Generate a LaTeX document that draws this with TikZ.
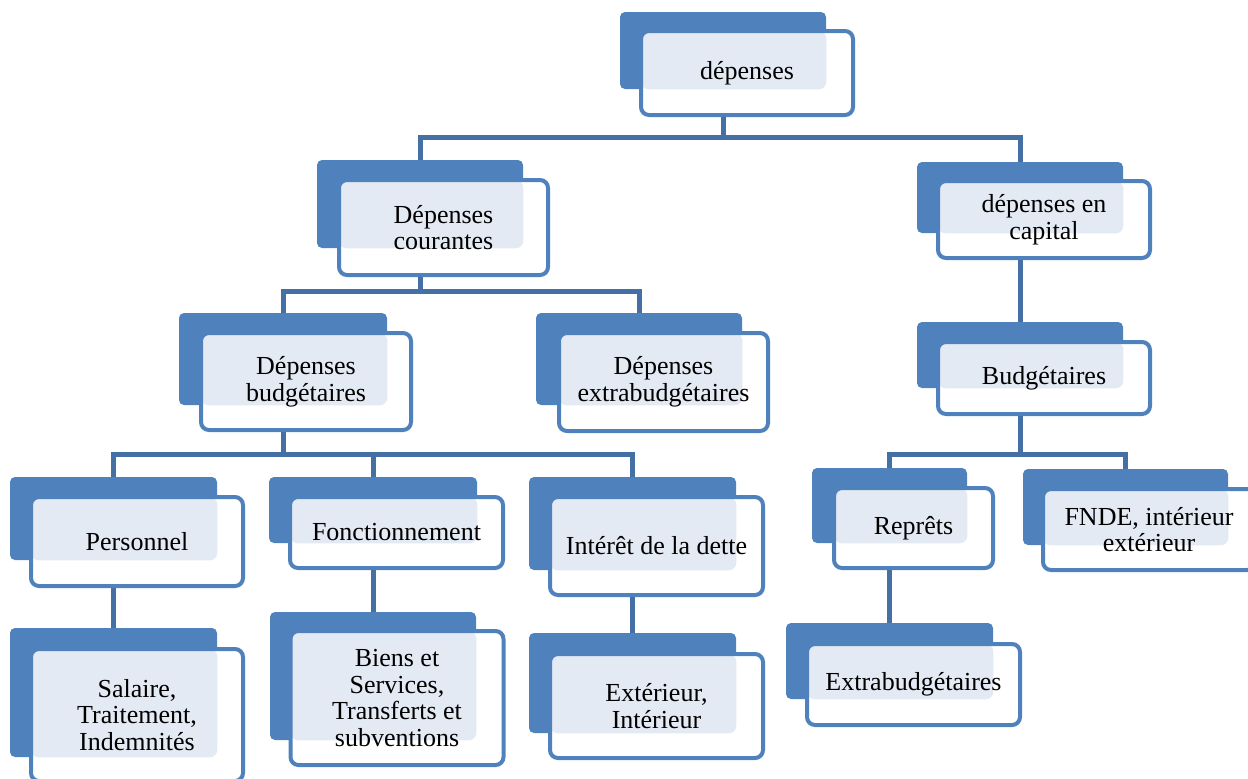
\documentclass[tikz,border=0pt]{standalone}
\usepackage{fontspec}
\setmainfont{Liberation Serif}
\usetikzlibrary{calc}
\definecolor{boxblue}{RGB}{79,129,189}
\definecolor{linkblue}{RGB}{68,112,166}
\definecolor{dotblue}{RGB}{228,234,243}
\tikzset{
  backbox/.style={fill=boxblue, rounded corners=2.5pt, inner sep=0pt},
  frontbox/.style={draw=boxblue, line width=2pt, fill=white, rounded corners=4pt,
    inner sep=0pt, align=center, font=\fontsize{13}{13.3}\selectfont,
    path picture={\fill[dotblue] (path picture bounding box.north west) rectangle (#1.south east);}},
  link/.style={draw=linkblue, line width=2.5pt}
}

\begin{document}
\begin{tikzpicture}[x=0.5pt, y=-0.5pt]
\useasboundingbox (0,0) rectangle (1248,778);
% niveau 1
\node[backbox, minimum width=103pt, minimum height=38.5pt] (dep-b) at (723,50.5) {};
\node[frontbox=dep-b, minimum width=106pt, minimum height=42pt] (dep) at (747,73) {dépenses};
% niveau 2
\node[backbox, minimum width=103pt, minimum height=44pt] (cour-b) at (420,204) {};
\node[frontbox=cour-b, minimum width=104.5pt, minimum height=47.5pt] (cour) at (443.5,227.5) {Dépenses\\courantes};
\node[backbox, minimum width=103pt, minimum height=35.5pt] (cap-b) at (1020,197.5) {};
\node[frontbox=cap-b, minimum width=106pt, minimum height=38.5pt] (cap) at (1044,219.5) {dépenses en\\capital};
% niveau 3
\node[backbox, minimum width=104pt, minimum height=46pt] (budg-b) at (283,359) {};
\node[frontbox=budg-b, minimum width=105pt, minimum height=48.5pt] (budg) at (306,381.5) {Dépenses\\budgétaires};
\node[backbox, minimum width=103pt, minimum height=46pt] (extra-b) at (639,359) {};
\node[frontbox=extra-b, minimum width=104.5pt, minimum height=49pt] (extra) at (663.5,382) {Dépenses\\extrabudgétaires};
\node[backbox, minimum width=103pt, minimum height=33pt] (bcap-b) at (1020,355) {};
\node[frontbox=bcap-b, minimum width=106pt, minimum height=36pt] (bcap) at (1044,378) {Budgétaires};
% niveau 4
\node[backbox, minimum width=103.5pt, minimum height=41.5pt] (pers-b) at (113.5,518.5) {};
\node[frontbox=pers-b, minimum width=106pt, minimum height=44.5pt] (pers) at (137,541.5) {Personnel};
\node[backbox, minimum width=104pt, minimum height=33pt] (fonc-b) at (373,510) {};
\node[frontbox=fonc-b, minimum width=106.5pt, minimum height=35.5pt] (fonc) at (396.5,532.5) {Fonctionnement};
\node[backbox, minimum width=103.5pt, minimum height=46.5pt] (inter-b) at (632.5,523.5) {};
\node[frontbox=inter-b, minimum width=106.5pt, minimum height=49pt] (inter) at (656.5,546) {Intérêt de la dette};
\node[backbox, minimum width=77.5pt, minimum height=37.5pt] (repr-b) at (889.5,505.5) {};
\node[frontbox=repr-b, minimum width=79.5pt, minimum height=40pt] (repr) at (913.5,528) {Reprêts};
\node[backbox, minimum width=102.5pt, minimum height=38pt] (fnde-b) at (1125.5,507) {};
\node[frontbox=fnde-b, minimum width=106pt, minimum height=40.5pt] (fnde) at (1149,529.5) {FNDE, intérieur\\extérieur};
% niveau 5
\node[backbox, minimum width=103.5pt, minimum height=64.5pt] (sal-b) at (113.5,692.5) {};
\node[frontbox=sal-b, minimum width=106pt, minimum height=66pt] (sal) at (137,715) {Salaire,\\Traitement,\\Indemnités};
\node[backbox, minimum width=103pt, minimum height=64pt] (biens-b) at (373,676) {};
\node[frontbox=biens-b, minimum width=106.5pt, minimum height=67pt] (biens) at (397,698) {Biens et\\Services,\\Transferts et\\subventions};
\node[backbox, minimum width=103.5pt, minimum height=50pt] (ext-b) at (632.5,683) {};
\node[frontbox=ext-b, minimum width=106.5pt, minimum height=52pt] (ext) at (656.5,706) {Extérieur,\\Intérieur};
\node[backbox, minimum width=103.5pt, minimum height=38pt] (xb-b) at (889.5,661) {};
\node[frontbox=xb-b, minimum width=106.5pt, minimum height=40.5pt] (xb) at (913.5,684.5) {Extrabudgétaires};
% liaisons
\coordinate (j1) at (723,137);
\coordinate (j2) at (420,291);
\coordinate (j3) at (1020,454);
\coordinate (j4) at (283,454);
\draw[link] (dep-b |- dep.south) -- (j1) -| (cour-b.north);
\draw[link] (j1) -| (cap-b.north);
\draw[link] (cour-b |- cour.south) -- (j2) -| (budg-b.north);
\draw[link] (j2) -| (extra-b.north);
\draw[link] (cap-b |- cap.south) -- (bcap-b.north);
\draw[link] (bcap-b |- bcap.south) -- (j3) -| (repr-b.north);
\draw[link] (j3) -| (fnde-b.north);
\draw[link] (budg-b |- budg.south) -- (j4) -| (pers-b.north);
\draw[link] (j4) -| (fonc-b.north);
\draw[link] (j4) -| (inter-b.north);
\draw[link] (pers-b |- pers.south) -- (sal-b.north);
\draw[link] (fonc-b |- fonc.south) -- (biens-b.north);
\draw[link] (inter-b |- inter.south) -- (ext-b.north);
\draw[link] (repr-b |- repr.south) -- (xb-b.north);
\end{tikzpicture}
\end{document}
